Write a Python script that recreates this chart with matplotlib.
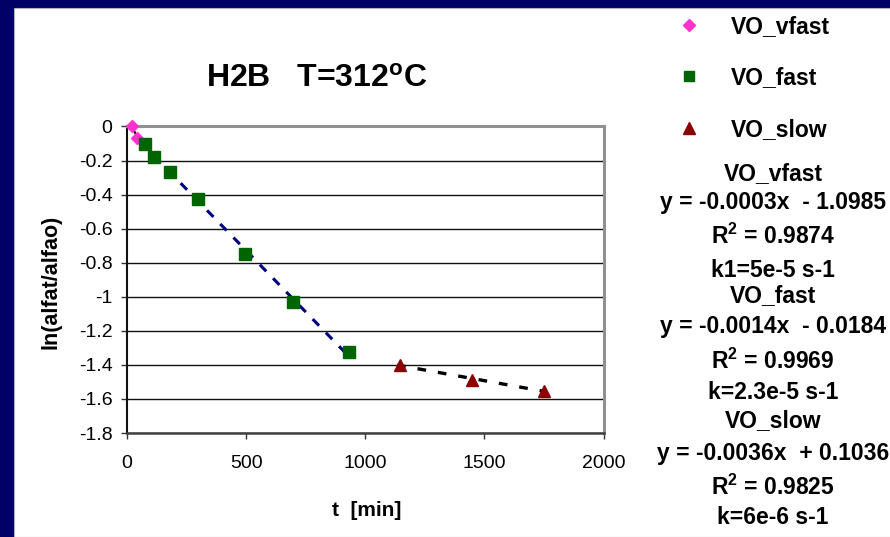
import numpy as np
import matplotlib
matplotlib.use("Agg")
import matplotlib.pyplot as plt
from matplotlib.patches import Rectangle
from matplotlib.lines import Line2D

plt.rcParams['font.family'] = ['Liberation Sans', 'DejaVu Sans']
plt.rcParams['mathtext.fontset'] = 'custom'
plt.rcParams['mathtext.rm'] = 'Liberation Sans:bold'
plt.rcParams['mathtext.it'] = 'Liberation Sans:bold'
plt.rcParams['mathtext.bf'] = 'Liberation Sans:bold'

# ---- data ----
vfast_t = [21, 44]
vfast_y = [0.0, -0.065]
fast_t = [74, 113, 181, 298, 494, 697, 930]
fast_y = [-0.102, -0.180, -0.266, -0.423, -0.747, -1.030, -1.326]
slow_t = [1144, 1449, 1751]
slow_y = [-1.400, -1.487, -1.552]

x_ticks = [0, 500, 1000, 1500, 2000]
y_ticks = [0, -0.2, -0.4, -0.6, -0.8, -1.0, -1.2, -1.4, -1.6, -1.8]
y_tick_labels = ['0', '-0.2', '-0.4', '-0.6', '-0.8', '-1', '-1.2', '-1.4', '-1.6', '-1.8']

series_names = ['VO_vfast', 'VO_fast', 'VO_slow']
trend_texts = [
    ['VO_vfast', 'y = -0.0003x  - 1.0985', 'R$^2$ = 0.9874', 'k1=5e-5 s-1'],
    ['VO_fast', 'y = -0.0014x  - 0.0184', 'R$^2$ = 0.9969', 'k=2.3e-5 s-1'],
    ['VO_slow', 'y = -0.0036x  + 0.1036', 'R$^2$ = 0.9825', 'k=6e-6 s-1'],
]

W, H = 890, 537
fig = plt.figure(figsize=(W / 100, H / 100), dpi=100)
fig.patch.set_facecolor('#000066')
fig.add_artist(Rectangle((13.5 / W, 0), 1, 1 - 7.5 / H, transform=fig.transFigure,
                         facecolor='white', edgecolor='#b0b0b0', lw=0.8, zorder=0))

def px(x, y):
    return x / W, 1 - y / H

ax = fig.add_axes([127 / W, 1 - 433 / H, (603.5 - 127) / W, (433 - 126.5) / H])
ax.set_facecolor('white')
ax.set_xlim(0, 2000)
ax.set_ylim(-1.8, 0)
ax.set_xticks(x_ticks)
ax.set_xticklabels([str(v) for v in x_ticks])
ax.set_yticks(y_ticks)
ax.set_yticklabels(y_tick_labels)
ax.set_axisbelow(True)
ax.yaxis.grid(True, color='#111111', lw=1.0)
for s in ['top', 'right']:
    ax.spines[s].set_color('#909090')
    ax.spines[s].set_linewidth(2.2)
ax.spines['left'].set_color('#111111')
ax.spines['left'].set_linewidth(1.5)
ax.spines['bottom'].set_color('#404040')
ax.spines['bottom'].set_linewidth(1.8)
ax.tick_params(axis='both', direction='out', length=4.5, width=1, color='#333333',
               labelsize=14)
ax.tick_params(axis='x', pad=11.5)
ax.tick_params(axis='y', pad=6)

# trendlines
p = np.polyfit(vfast_t, vfast_y, 1)
xs = np.array([vfast_t[0], vfast_t[-1]])
ax.plot(xs, np.polyval(p, xs), color='black', lw=1.5, zorder=3)
p = np.polyfit(fast_t, fast_y, 1)
xs = np.array([fast_t[0] - 15, fast_t[-1] + 15])
ax.plot(xs, np.polyval(p, xs), color='#000080', lw=2.2, dashes=(3, 3.2), zorder=3)
p = np.polyfit(slow_t, slow_y, 1)
xs = np.array([slow_t[0] - 10, slow_t[-1]])
ax.plot(xs, np.polyval(p, xs), color='black', lw=2.4, dashes=(2.6, 3.6), zorder=3)

# markers
ax.plot(vfast_t, vfast_y, 'D', color='#ff33cc', ms=6, mec='#ff33cc', lw=0, zorder=4, clip_on=False)
ax.plot(fast_t, fast_y, 's', color='#006400', ms=8, mec='#006400', lw=0, zorder=4, clip_on=False)
ax.plot(slow_t, slow_y, '^', color='#8b0000', ms=9, mec='#8b0000', lw=0, zorder=4, clip_on=False)

ax.set_xlabel('t  [min]', fontsize=15, fontweight='bold', labelpad=0)
ax.xaxis.set_label_coords((367 - 127) / (603.5 - 127), -(506 + 10 - 433) / (433 - 126.5))
ax.xaxis.label.set_va('baseline')
ax.set_ylabel('ln(alfat/alfao)', fontsize=15.5, fontweight='bold')
ax.yaxis.set_label_coords(-(127 - 51) / (603.5 - 127), (433 - 282) / (433 - 126.5))
ax.yaxis.label.set_va('center')

# title
fig.text(*px(317, 87), 'H2B   T=312$^{\\mathrm{o}}$C', ha='center', va='baseline',
         fontsize=23, fontweight='bold')

# legend
leg_markers = [('D', '#ff33cc', 6), ('s', '#006400', 7.5), ('^', '#8b0000', 9)]
leg_base = [33, 84, 136]
for (m, c, ms), name, yb in zip(leg_markers, series_names, leg_base):
    fig.add_artist(Line2D([689 / W], [1 - (yb - 8) / H], marker=m, color=c, mec=c,
                          ms=ms, lw=0, transform=fig.transFigure))
    fig.text(*px(731, yb), name, ha='left', va='baseline', fontsize=16.5, fontweight='bold')

# trendline labels
base_lines = [[180, 209, 244, 277], [302, 333, 369, 399], [427, 460, 495, 524]]
for texts, bases in zip(trend_texts, base_lines):
    for t, yb in zip(texts, bases):
        fig.text(*px(773, yb), t, ha='center', va='baseline', fontsize=16.5, fontweight='bold')

fig.savefig('out.png', dpi=100, facecolor=fig.get_facecolor())
